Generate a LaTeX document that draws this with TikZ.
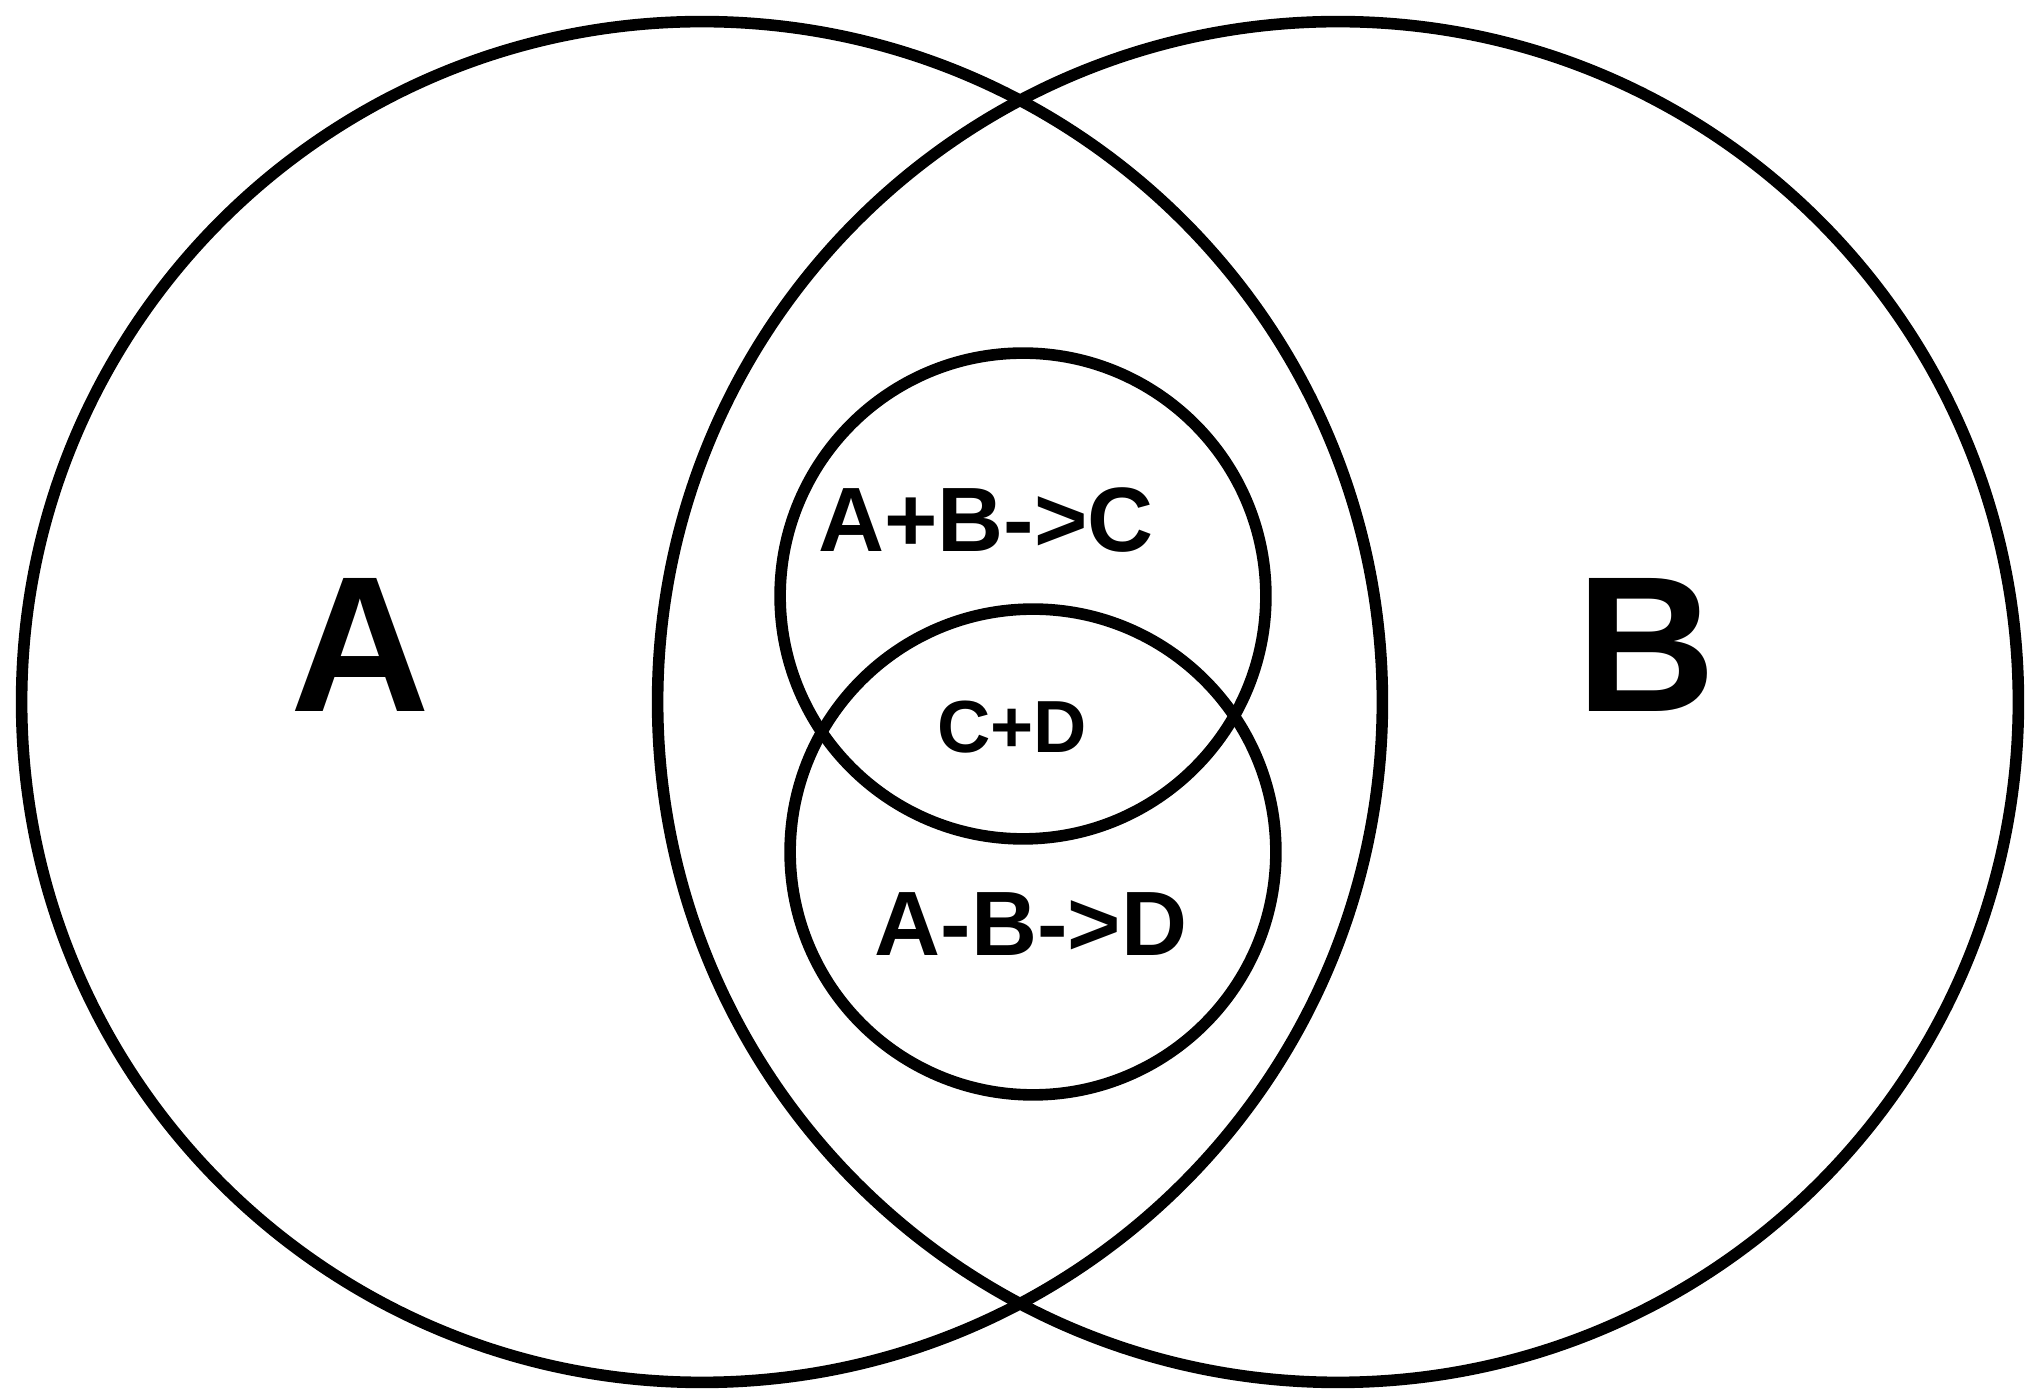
\documentclass[tikz,border=0pt]{standalone}
\usepackage{fontspec}
\setmainfont{Liberation Sans}

\begin{document}
\begin{tikzpicture}[
  x=0.01cm, y=-0.01cm,
  ring/.style={draw, circle, line width=3.3pt, inner sep=0pt},
  bigset/.style={ring, minimum size=13.6cm},
  subset/.style={ring, minimum size=4.855cm},
  setlbl/.style={font=\fontsize{55}{60}\selectfont\bfseries, anchor=base, inner sep=0pt},
  rxnlbl/.style={font=\fontsize{26}{30}\selectfont\bfseries, anchor=base, inner sep=0pt},
  sumlbl/.style={font=\fontsize{21}{25}\selectfont\bfseries, anchor=base, inner sep=0pt}
]
\useasboundingbox (0,0) rectangle (2027,1389);

% --- big sets ---
\node[bigset] (setA) at (702, 702) {};
\node[bigset] (setB) at (1338, 702) {};

% --- reaction sets ---
\node[subset] (setC) at (1023, 596) {};
\node[subset] (setD) at (1033, 852) {};

% --- labels ---
\node[setlbl] (lblA) at (360, 712) {A};
\node[setlbl] (lblB) at (1646, 712) {B};
\node[rxnlbl] (lblC) at (986, 552) {A+B->C};
\node[sumlbl] (lblCD) at (1012, 753) {C+D};
\node[rxnlbl] (lblD) at (1031, 956) {A-B->D};

\end{tikzpicture}
\end{document}
